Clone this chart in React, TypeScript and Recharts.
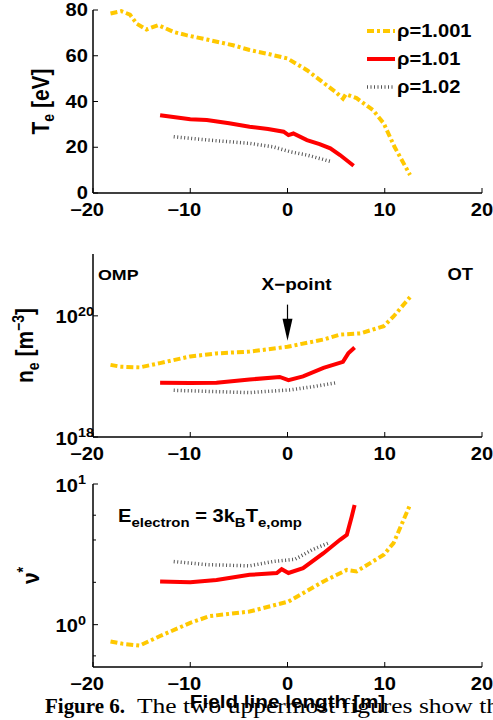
import React from 'react';
import { LineChart, Line, XAxis, YAxis, Legend, ReferenceDot } from 'recharts';

// field line length ticks and panel ticks
const xTicks = [-20, -10, 0, 10, 20];
const teTicks = [0, 20, 40, 60, 80];
const neTicks = [1e18, 1e20];
const nuTicks = [0.6, 0.7, 0.8, 0.9, 1, 2, 3, 4, 5, 6, 7, 8, 9, 10];

// Te [eV]
const te1X = [-18.2, -17.1, -16.2, -15.5, -14.5, -13.3, -11.7, -10.4, -8.3, -5.6, -3.9, -2, 0, 2, 4, 5, 5.7, 6.0, 7.1, 8.8, 9.9, 11, 12.6];
const te1Y = [78.5, 79.5, 78, 74, 71.5, 73.4, 70.4, 69, 67.1, 64.6, 62.5, 60.8, 58.8, 53.7, 47.2, 44, 41.2, 43.2, 41.5, 36.2, 30.4, 20.2, 7.9];
const te2X = [-13.1, -10, -8.3, -6, -3.9, -2, -0.4, 0.1, 0.6, 2, 3.3, 4.4, 5.4, 6.8];
const te2Y = [34, 32.2, 31.9, 30.5, 29, 28, 26.8, 25.3, 26, 23.1, 21.4, 19.5, 16.6, 11.9];
const te3X = [-11.7, -8, -3.9, -1.5, 0.3, 2, 4.5];
const te3Y = [24.6, 23.1, 21.7, 20.2, 18, 16.6, 13.7];

// ne [m^-3]
const ne1X = [-18.2, -17.2, -15.2, -13.1, -10, -7.3, -3.9, 0, 3.7, 5.4, 7.5, 9.9, 10.9, 12.6];
const ne1Y = [1.55e19, 1.45e19, 1.41e19, 1.66e19, 2.14e19, 2.4e19, 2.57e19, 3.09e19, 4.07e19, 4.9e19, 5.13e19, 6.76e19, 9.77e19, 2.04e20];
const ne2X = [-13.1, -10, -7.3, -3.9, -0.8, 0.1, 1.6, 3.7, 5.7, 6.25, 6.9];
const ne2Y = [7.9e18, 7.8e18, 7.9e18, 8.9e18, 9.8e18, 8.7e18, 1.0e19, 1.38e19, 1.74e19, 2.4e19, 3.0e19];
const ne3X = [-11.7, -3.9, 0.3, 2.7, 4.9];
const ne3Y = [5.9e18, 5.4e18, 6.0e18, 6.8e18, 7.8e18];

// collisionality
const nu1X = [-18.2, -16.9, -15.2, -13.1, -10, -8, -3.9, 0.1, 3.7, 6.1, 7.1, 9.9, 10.9, 12.6];
const nu1Y = [0.76, 0.73, 0.71, 0.83, 1.03, 1.15, 1.24, 1.46, 2.03, 2.45, 2.39, 3.14, 3.8, 7.1];
const nu2X = [-13.1, -10, -7.3, -3.9, -1.1, -0.6, 0.1, 1.6, 3.7, 5.4, 6.1, 6.6, 6.9];
const nu2Y = [2.03, 2.0, 2.08, 2.26, 2.33, 2.48, 2.33, 2.52, 3.22, 4.01, 4.35, 5.86, 7.1];
const nu3X = [-11.7, -8.3, -3.9, -1.5, 0.8, 2.5, 4.2];
const nu3Y = [2.81, 2.67, 2.62, 2.81, 2.92, 3.4, 3.8];

const seriesNames = ['\u03c1=1.001', '\u03c1=1.01', '\u03c1=1.02'];
const seriesColors = ['#FFC800', '#FF0000', '#555555'];
const seriesDash = ['7 3 3 3', undefined, '1 2.5'];
const seriesWidth = [4, 4, 3.5];

const F = 'Liberation Sans, Arial, Helvetica, sans-serif';
const SX = 1.15;

const pts = (xs: number[], ys: number[]) => xs.map((x, i) => ({ x, y: ys[i] }));
const fmt = (v: number) => (v < 0 ? `\u2212${-v}` : `${v}`);

const SText = ({ x, y, size, anchor = 'start', rot = false, weight = 'bold', children }: any) => (
  <text
    transform={`translate(${x},${y}) scale(${SX},1)${rot ? ' rotate(-90)' : ''}`}
    textAnchor={anchor}
    fontFamily={F}
    fontWeight={weight}
    fontSize={size}
    fill="#000"
  >
    {children}
  </text>
);

// matlab centres the digits on the tick and lets the minus hang left
const BottomTick = ({ x, y, payload }: any) => (
  <g>
    <line x1={x} x2={x} y1={y} y2={y - 5} stroke="#000" />
    <SText x={payload.value < 0 ? x - 6 : x} y={y + 23} size={17.5} anchor="middle">{fmt(payload.value)}</SText>
  </g>
);
const TopTick = ({ x, y }: any) => <line x1={x} x2={x} y1={y} y2={y + 5} stroke="#000" />;
const LeftTick = ({ x, y, payload }: any) => (
  <g>
    <line x1={x} x2={x + 5} y1={y} y2={y} stroke="#000" />
    <SText x={x - 5} y={y + 6} size={17.5} anchor="end">{payload.value}</SText>
  </g>
);
const RightTick = ({ x, y }: any) => <line x1={x} x2={x - 5} y1={y} y2={y} stroke="#000" />;

const isDecade = (v: number) => Math.abs(Math.log10(v) - Math.round(Math.log10(v))) < 1e-6;
const LogLeftTick = ({ x, y, payload }: any) => {
  const v = payload.value;
  const major = isDecade(v);
  return (
    <g>
      <line x1={x} x2={x + (major ? 5 : 3)} y1={y} y2={y} stroke="#000" />
      {major && (
        <>
          <SText x={x - 15} y={y + 7.5} size={17.5} anchor="end">10</SText>
          <SText x={x - 15} y={y} size={12.5}>{Math.round(Math.log10(v))}</SText>
        </>
      )}
    </g>
  );
};
const LogRightTick = ({ x, y, payload }: any) => (
  <line x1={x} x2={x - (isDecade(payload.value) ? 5 : 3)} y1={y} y2={y} stroke="#000" />
);

const axisLine = { stroke: '#000', strokeWidth: 1.5 };
const W = 493;
const H = 223;
const margin = { top: 10, right: 11, left: 0, bottom: 0 };

const renderLegend = () => (
  <div style={{ fontFamily: F }}>
    {seriesNames.map((n, i) => (
      <div key={n} style={{ display: 'flex', alignItems: 'center', height: 28 }}>
        <svg width={31} height={28}>
          <line x1={1} x2={29} y1={14} y2={14} stroke={seriesColors[i]} strokeWidth={seriesWidth[i]} strokeDasharray={seriesDash[i]} />
        </svg>
        <svg width={90} height={28}>
          <SText x={0} y={20} size={17.5}>{n}</SText>
        </svg>
      </div>
    ))}
  </div>
);

const lines = (a: any[], b: any[], c: any[]) =>
  [a, b, c].map((d, i) => (
    <Line
      key={i}
      data={d}
      dataKey="y"
      name={seriesNames[i]}
      type="linear"
      stroke={seriesColors[i]}
      strokeWidth={seriesWidth[i]}
      strokeDasharray={seriesDash[i]}
      dot={false}
      isAnimationActive={false}
    />
  ));

const xAxes = (bottomLabel?: string) => [
  <XAxis
    key="b"
    xAxisId={0}
    dataKey="x"
    type="number"
    domain={[-20, 20]}
    ticks={xTicks}
    allowDataOverflow
    axisLine={axisLine}
    tickLine={false}
    tickSize={0}
    tickMargin={0}
    height={30}
    tick={BottomTick}
    label={
      bottomLabel
        ? { content: ({ viewBox }: any) => <SText x={viewBox.x + viewBox.width / 2} y={viewBox.y + 41} size={18} anchor="middle">{bottomLabel}</SText> }
        : undefined
    }
  />,
  <XAxis
    key="t"
    xAxisId="top"
    orientation="top"
    dataKey="x"
    type="number"
    domain={[-20, 20]}
    ticks={xTicks}
    axisLine={axisLine}
    tickLine={false}
    tickSize={0}
    tickMargin={0}
    height={0}
    tick={TopTick}
  />,
];

export default function App() {
  return (
    <div style={{ position: 'absolute', left: 0, top: 0, width: W, height: 720, background: '#fff', overflow: 'hidden' }}>
      <div style={{ position: 'absolute', left: 0, top: 0 }}>
        <LineChart width={W} height={H} margin={margin}>
          {xAxes()}
          <YAxis
            type="number"
            domain={[0, 80]}
            ticks={teTicks}
            width={93}
            axisLine={axisLine}
            tickLine={false}
            tickSize={0}
            tickMargin={0}
            tick={LeftTick}
            label={{
              content: ({ viewBox }: any) => (
                <SText x={49} y={viewBox.y + viewBox.height / 2} size={21} anchor="middle" rot>
                  T<tspan dy={4} fontSize={14}>e</tspan><tspan dy={-4}> [eV]</tspan>
                </SText>
              ),
            }}
          />
          <YAxis yAxisId="r" orientation="right" type="number" domain={[0, 80]} ticks={teTicks} width={0} axisLine={axisLine} tickLine={false} tickSize={0} tickMargin={0} tick={RightTick} />
          {lines(pts(te1X, te1Y), pts(te2X, te2Y), pts(te3X, te3Y))}
          <Legend
            layout="horizontal"
            verticalAlign="middle"
            align="center"
            content={renderLegend}
            wrapperStyle={{ position: 'absolute', left: 366, top: 17, width: 125 }}
          />
        </LineChart>
      </div>

      <div style={{ position: 'absolute', left: 0, top: 244 }}>
        <LineChart width={W} height={H} margin={margin}>
          {xAxes()}
          <YAxis
            type="number"
            scale="log"
            domain={[1e18, 1.05e21]}
            ticks={neTicks}
            allowDataOverflow
            width={93}
            axisLine={axisLine}
            tickLine={false}
            tickSize={0}
            tickMargin={0}
            tick={LogLeftTick}
            label={{
              content: ({ viewBox }: any) => (
                <SText x={33} y={viewBox.y + viewBox.height / 2} size={21} anchor="middle" rot>
                  n<tspan dy={5} fontSize={14}>e</tspan><tspan dy={-5}> [m</tspan><tspan dy={-8} fontSize={14}>{'\u22123'}</tspan><tspan dy={8}>]</tspan>
                </SText>
              ),
            }}
          />
          <YAxis yAxisId="r" orientation="right" type="number" scale="log" domain={[1e18, 1.05e21]} ticks={neTicks} allowDataOverflow width={0} axisLine={axisLine} tickLine={false} tickSize={0} tickMargin={0} tick={LogRightTick} />
          {lines(pts(ne1X, ne1Y), pts(ne2X, ne2Y), pts(ne3X, ne3Y))}
          <ReferenceDot
            x={0}
            y={3.9e19}
            ifOverflow="visible"
            shape={({ cx, cy }: any) => (
              <g>
                <line x1={cx} x2={cx} y1={cy - 36} y2={cy - 20} stroke="#000" strokeWidth={1.2} />
                <polygon points={`${cx - 5},${cy - 22} ${cx + 5},${cy - 22} ${cx},${cy}`} fill="#000" />
                <SText x={cx + 9} y={cy - 51} size={16.5} anchor="middle">{'X\u2212point'}</SText>
              </g>
            )}
          />
          <ReferenceDot
            x={-20}
            y={1.05e21}
            ifOverflow="visible"
            shape={({ cx, cy }: any) => (
              <g>
                <SText x={cx + 5} y={cy + 26} size={15.5}>OMP</SText>
                <SText x={cx + 380} y={cy + 26} size={16} anchor="end">OT</SText>
              </g>
            )}
          />
        </LineChart>
      </div>

      <div style={{ position: 'absolute', left: 0, top: 464 }}>
        <LineChart width={W} height={H + 30} margin={{ ...margin, top: 20, bottom: 20 }}>
          {xAxes('Field line length [m]')}
          <YAxis
            type="number"
            scale="log"
            domain={[0.5, 10]}
            ticks={nuTicks}
            allowDataOverflow
            width={93}
            axisLine={axisLine}
            tickLine={false}
            tickSize={0}
            tickMargin={0}
            tick={LogLeftTick}
            label={{
              content: ({ viewBox }: any) => (
                <SText x={39} y={viewBox.y + viewBox.height / 2} size={21} anchor="middle" rot>
                  {'\u03bd'}<tspan dy={-9} fontSize={14}>*</tspan>
                </SText>
              ),
            }}
          />
          <YAxis yAxisId="r" orientation="right" type="number" scale="log" domain={[0.5, 10]} ticks={nuTicks} allowDataOverflow width={0} axisLine={axisLine} tickLine={false} tickSize={0} tickMargin={0} tick={LogRightTick} />
          {lines(pts(nu1X, nu1Y), pts(nu2X, nu2Y), pts(nu3X, nu3Y))}
          <ReferenceDot
            x={-20}
            y={10}
            ifOverflow="visible"
            shape={({ cx, cy }: any) => (
              <SText x={cx + 25} y={cy + 38} size={17.5}>
                E<tspan dy={5} fontSize={13}>electron</tspan><tspan dy={-5}> = 3k</tspan><tspan dy={5} fontSize={13}>B</tspan><tspan dy={-5}>T</tspan><tspan dy={5} fontSize={13}>e,omp</tspan>
              </SText>
            )}
          />
        </LineChart>
      </div>

      <svg style={{ position: 'absolute', left: 0, top: 690 }} width={W} height={30}>
        <text y={23} fontFamily="Liberation Serif, Times New Roman, serif" fontSize={20} fill="#000">
          <tspan x={45} fontWeight="bold" textLength={80} lengthAdjust="spacingAndGlyphs">Figure 6.</tspan>
        </text>
        <text x={137} y={23} fontFamily="Liberation Serif, Times New Roman, serif" fontSize={20} fill="#000" textLength={362} lengthAdjust="spacingAndGlyphs">
          The two uppermost figures show th
        </text>
      </svg>
    </div>
  );
}
